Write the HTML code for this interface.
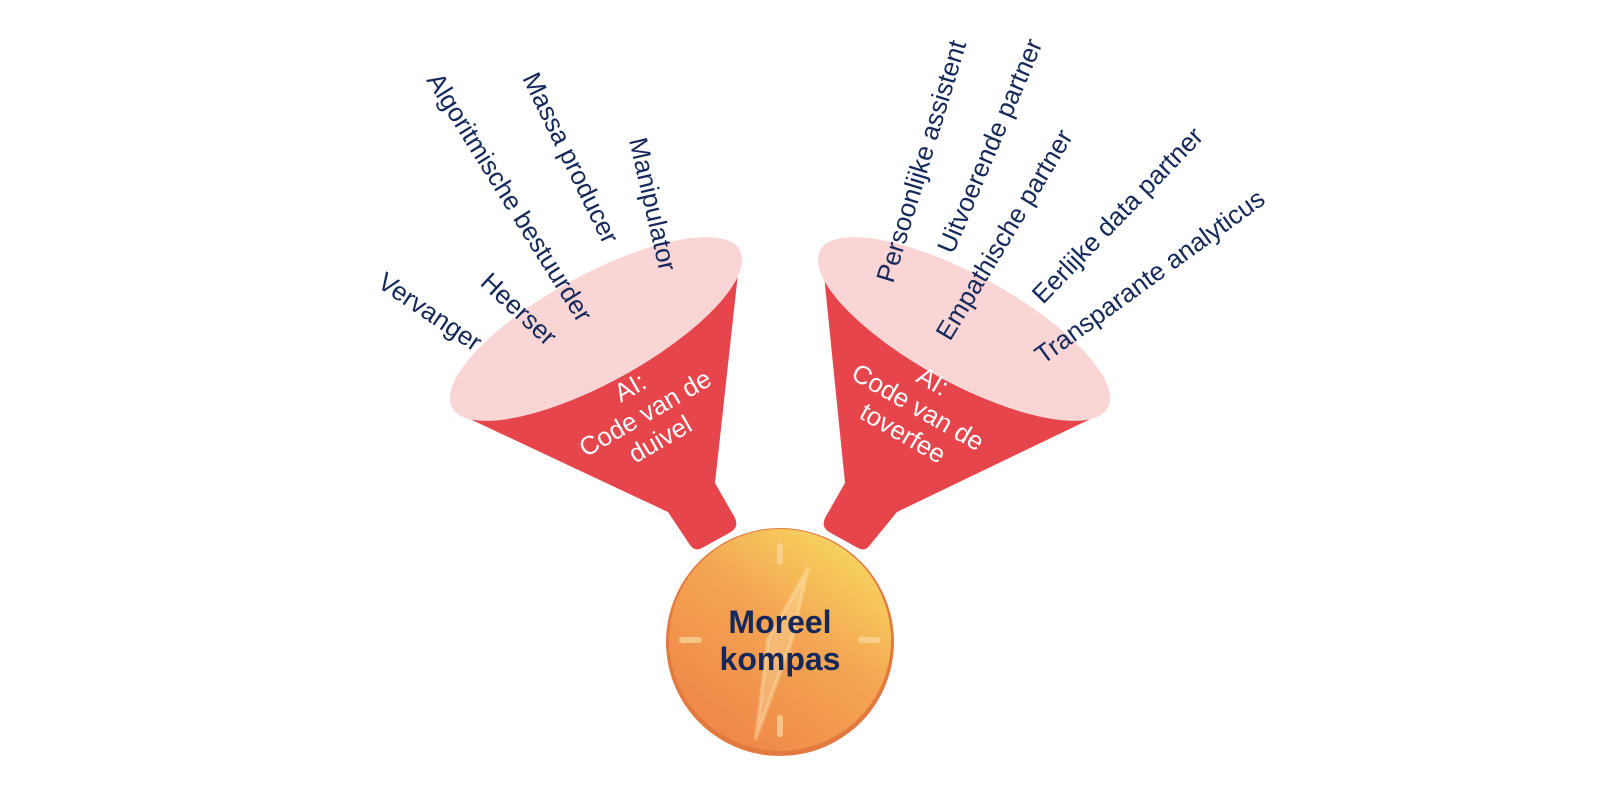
<!DOCTYPE html>
<html><head><meta charset="utf-8"><style>
html,body{margin:0;padding:0;background:#fff;}
svg{display:block;}
.l{font-family:"Liberation Sans",sans-serif;font-size:26px;fill:#14285a;}
.w{font-family:"Liberation Sans",sans-serif;font-size:26px;fill:#fff;text-anchor:middle;}
.b{font-family:"Liberation Sans",sans-serif;font-size:32px;font-weight:bold;fill:#14285a;text-anchor:middle;}
</style></head><body>
<svg width="1600" height="800" viewBox="0 0 1600 800" xmlns="http://www.w3.org/2000/svg">
<defs>
<linearGradient id="cg" x1="0.85" y1="0.05" x2="0.2" y2="0.95">
<stop offset="0" stop-color="#f7d860"/>
<stop offset="0.45" stop-color="#f4a553"/>
<stop offset="1" stop-color="#ef8648"/>
</linearGradient>
</defs>
<path d="M455,412 L740,255 L715,483 L735,518 Q739,527 731,532 L702,548 Q695,552 690,545 L668,512 Z" fill="#e5454b"/>
<ellipse cx="596" cy="329" rx="164" ry="54" transform="rotate(-28.7 596 329)" fill="#f9d5d6"/>
<path d="M1105,412 L822,255 L845,483 L825,518 Q821,527 829,532 L858,548 Q865,552 870,545 L897,512 Z" fill="#e5454b"/>
<ellipse cx="964" cy="329" rx="164" ry="54" transform="rotate(28.7 964 329)" fill="#f9d5d6"/>
<g transform="translate(645,413) rotate(-30)">
<text class="w" y="-21">AI:</text><text class="w" y="9">Code van de</text><text class="w" y="39">duivel</text>
</g>
<g transform="translate(918,407) rotate(30)">
<text class="w" y="-21">AI:</text><text class="w" y="9">Code van de</text><text class="w" y="39">toverfee</text>
</g>
<text class="l" transform="translate(376,286) rotate(34)">Vervanger</text>
<text class="l" transform="translate(479,284) rotate(43)">Heerser</text>
<text class="l" transform="translate(426,80) rotate(58)">Algoritmische bestuurder</text>
<text class="l" transform="translate(522,78) rotate(64)">Massa producer</text>
<text class="l" transform="translate(629,140) rotate(77)">Manipulator</text>
<text class="l" transform="translate(893,284) rotate(-73)">Persoonlijke assistent</text>
<text class="l" transform="translate(953,255) rotate(-67)">Uitvoerende partner</text>
<text class="l" transform="translate(950,342) rotate(-59)">Empathische partner</text>
<text class="l" transform="translate(1043,305) rotate(-46)">Eerlijke data partner</text>
<text class="l" transform="translate(1043,365) rotate(-36)">Transparante analyticus</text>
<circle cx="780" cy="642" r="114" fill="#e27a40"/>
<circle cx="780" cy="640" r="111" fill="url(#cg)"/>
<g stroke="#fbd9a0" stroke-opacity="0.7" stroke-width="6" stroke-linecap="round">
<line x1="780" y1="546" x2="780" y2="562"/>
<line x1="780" y1="718" x2="780" y2="734"/>
<line x1="682" y1="640" x2="699" y2="640"/>
<line x1="861" y1="640" x2="878" y2="640"/>
</g>
<path d="M808,568 L792,640 L756,738 L768,640 Z" fill="#fde7b5" fill-opacity="0.35" stroke="#fde7b5" stroke-opacity="0.35" stroke-width="4" stroke-linejoin="round"/>
<text class="b" x="780" y="633">Moreel</text>
<text class="b" x="780" y="670">kompas</text>
</svg>
</body></html>
